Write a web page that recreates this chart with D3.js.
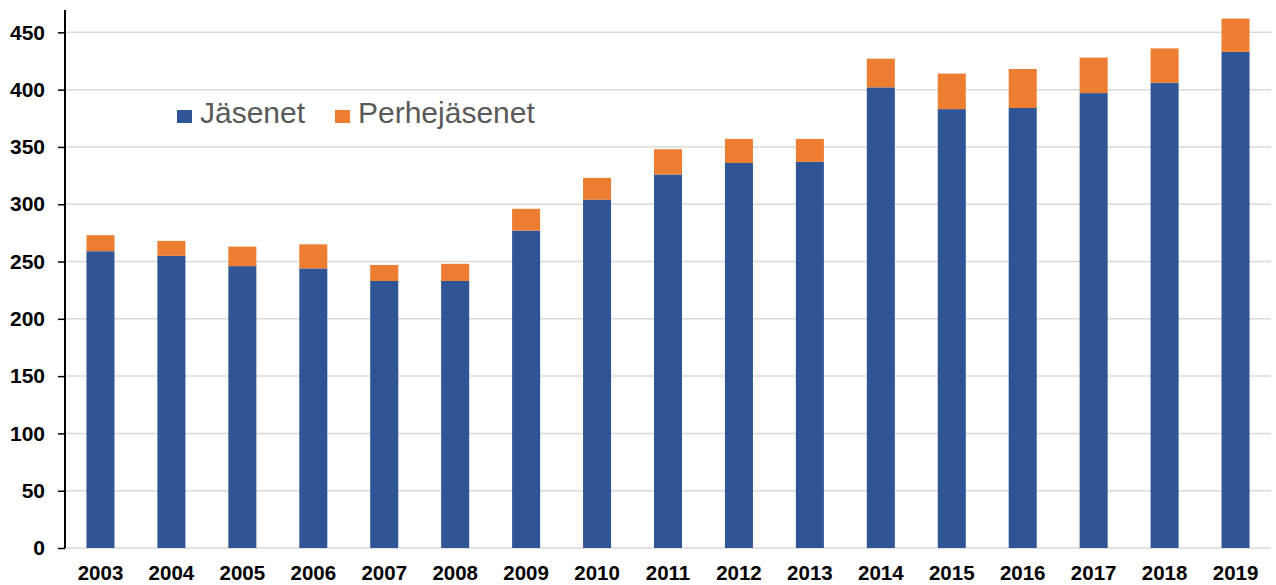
<!DOCTYPE html>
<html>
<head>
<meta charset="utf-8">
<script src="https://cdn.jsdelivr.net/npm/d3@7"></script>
<style>
    html, body { margin:0; padding:0; background:#fff; }
    svg { display:block; }
</style>
</head>
<body>
<svg id="chart"></svg>
<script>
// data
const years = ["2003","2004","2005","2006","2007","2008","2009","2010","2011","2012","2013","2014","2015","2016","2017","2018","2019"];
const jasenet = [259, 255, 246, 244, 233, 233, 277, 304, 326, 336, 337, 402, 383, 384, 397, 406, 433];
const perhejasenet = [14, 13, 17, 21, 14, 15, 19, 19, 22, 21, 20, 25, 31, 34, 31, 30, 29];
const seriesNames = ["Jäsenet", "Perhejäsenet"];
const yTicks = [0, 50, 100, 150, 200, 250, 300, 350, 400, 450];

const BLUE = "#2F5597";
const ORANGE = "#ED7D31";
const GRID = "#d9d9d9";

const width = 1276;
const height = 585;
const margin = { left:65, right:5, top:10, bottom:37 };
const contentsWidth = width - margin.left - margin.right;
const contentsHeight = height - margin.top - margin.bottom;

const svg = d3.select("#chart").attr("width", width).attr("height", height);
const contentsG = svg.append("g").attr("transform", `translate(${margin.left}, ${margin.top})`);

const x = d3.scaleBand().domain(years).range([0, contentsWidth]).paddingInner(0.605).paddingOuter(0.3025);
const y = d3.scaleLinear().domain([0, 469.5]).range([contentsHeight, 0]);

//gridlines
contentsG.selectAll("line.grid").data(yTicks).enter()
    .append("line")
        .attr("class", "grid")
        .attr("x1", 0)
        .attr("x2", contentsWidth)
        .attr("y1", d => y(d))
        .attr("y2", d => y(d))
        .attr("stroke", GRID)
        .attr("stroke-width", 1.5);

//stacked bars
const rows = years.map((yr, i) => ({ year: yr, "Jäsenet": jasenet[i], "Perhejäsenet": perhejasenet[i] }));
const stacked = d3.stack().keys(seriesNames)(rows);
const colour = d3.scaleOrdinal().domain(seriesNames).range([BLUE, ORANGE]);

contentsG.selectAll("g.series").data(stacked).enter()
    .append("g")
        .attr("class", "series")
        .attr("fill", d => colour(d.key))
    .selectAll("rect").data(d => d).enter()
    .append("rect")
        .attr("x", d => x(d.data.year))
        .attr("width", x.bandwidth())
        .attr("y", d => y(d[1]))
        .attr("height", d => y(d[0]) - y(d[1]));

//y axis
const yAxisG = contentsG.append("g")
    .call(d3.axisLeft(y).tickValues(yTicks).tickSize(7).tickPadding(13));
yAxisG.select(".domain").remove();
yAxisG.selectAll(".tick line").attr("stroke", "#000").attr("stroke-width", 1.5);
yAxisG.selectAll(".tick text")
    .attr("fill", "#000")
    .attr("font-family", "Liberation Sans, Arial, sans-serif")
    .attr("font-weight", "bold")
    .attr("font-size", 21);
contentsG.append("line")
    .attr("x1", 0).attr("x2", 0)
    .attr("y1", 0).attr("y2", contentsHeight)
    .attr("stroke", "#000")
    .attr("stroke-width", 2);

//x axis
const xAxisG = contentsG.append("g")
    .attr("transform", `translate(0, ${contentsHeight})`)
    .call(d3.axisBottom(x).tickSize(0).tickPadding(0));
xAxisG.select(".domain").remove();
xAxisG.selectAll(".tick text")
    .attr("dy", null)
    .attr("y", 32)
    .attr("fill", "#000")
    .attr("font-family", "Liberation Sans, Arial, sans-serif")
    .attr("font-weight", "bold")
    .attr("font-size", 20.5);

//legend
const legendItems = [
    { name: seriesNames[0], x: 177 },
    { name: seriesNames[1], x: 335 }
];
const legendG = svg.append("g").attr("class", "legend");
legendG.selectAll("g.item").data(legendItems).enter()
    .append("g")
        .attr("class", "item")
        .attr("transform", d => `translate(${d.x}, 123)`)
        .each(function(d){
            const itemG = d3.select(this);
            itemG.append("rect")
                .attr("x", 0)
                .attr("y", -13)
                .attr("width", 15)
                .attr("height", 13)
                .attr("fill", colour(d.name));
            itemG.append("text")
                .attr("x", 23)
                .attr("y", 0)
                .attr("font-family", "Liberation Sans, Arial, sans-serif")
                .attr("font-size", 30)
                .attr("fill", "#595959")
                .text(d.name);
        });
</script>
</body>
</html>
